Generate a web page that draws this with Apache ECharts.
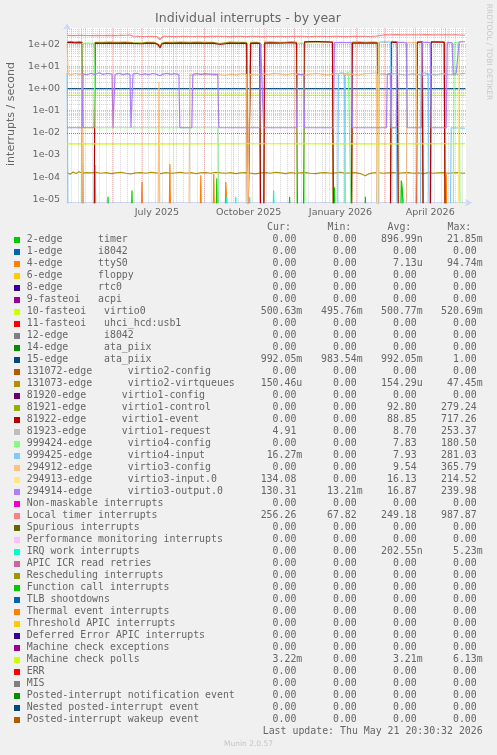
<!DOCTYPE html>
<html>
<head>
<meta charset="utf-8">
<script src="https://cdn.jsdelivr.net/npm/echarts@6/dist/echarts.min.js"></script>
<style>
html,body{margin:0;padding:0;background:#F0F0F0;}
#c{width:497px;height:755px;}
</style>
</head>
<body>
<div id="c"></div>
<script>
// ---------------- DATA ----------------
// Time axis (Munin "by year" graph, 400 days ending at last update)
const AXIS_START = Date.UTC(2025, 3, 16, 20, 30, 32);
const AXIS_END   = Date.UTC(2026, 4, 21, 20, 30, 32);
const DATA_T0    = Date.UTC(2025, 3, 17);   // day 0 of the point lists below
const X_LABEL_DATES = ['2025-07-16', '2025-10-16', '2026-01-16', '2026-04-16'];
const X_LABELS      = ['July 2025', 'October 2025', 'January 2026', 'April 2026'];
const Y_MIN = 7.0e-6, Y_MAX = 545;
const Y_TICK_VALUES = [1e-5, 1e-4, 1e-3, 1e-2, 1e-1, 1e0, 1e1, 1e2];
const Y_TICK_LABELS = ['1e-05', '1e-04', '1e-03', '1e-02', '1e-01', '1e+00', '1e+01', '1e+02'];

// Legend rows (Munin order)
const NAMES = [
 '2-edge      timer', '1-edge      i8042', '4-edge      ttyS0', '6-edge      floppy',
 '8-edge      rtc0', '9-fasteoi   acpi', '10-fasteoi   virtio0', '11-fasteoi   uhci_hcd:usb1',
 '12-edge      i8042', '14-edge      ata_piix', '15-edge      ata_piix',
 '131072-edge      virtio2-config', '131073-edge      virtio2-virtqueues',
 '81920-edge      virtio1-config', '81921-edge      virtio1-control', '81922-edge      virtio1-event',
 '81923-edge      virtio1-request', '999424-edge      virtio4-config', '999425-edge      virtio4-input',
 '294912-edge      virtio3-config', '294913-edge      virtio3-input.0', '294914-edge      virtio3-output.0',
 'Non-maskable interrupts', 'Local timer interrupts', 'Spurious interrupts',
 'Performance monitoring interrupts', 'IRQ work interrupts', 'APIC ICR read retries',
 'Rescheduling interrupts', 'Function call interrupts', 'TLB shootdowns',
 'Thermal event interrupts', 'Threshold APIC interrupts', 'Deferred Error APIC interrupts',
 'Machine check exceptions', 'Machine check polls', 'ERR', 'MIS',
 'Posted-interrupt notification event', 'Nested posted-interrupt event', 'Posted-interrupt wakeup event'
];
const COLORS = [
 '#00CC00','#0066B3','#FF8000','#FFCC00','#330099','#990099','#CCFF00','#FF0000','#808080','#008F00',
 '#00487D','#B35A00','#B38F00','#6B006B','#8FB300','#B30000','#BEBEBE','#80FF80','#80C9FF','#FFC080',
 '#FFE680','#AA80FF','#EE00CC','#FF8080','#666600','#FFBFFF','#00FFCC','#CC6699','#999900','#00CC00',
 '#0066B3','#FF8000','#FFCC00','#330099','#990099','#CCFF00','#FF0000','#808080','#008F00','#00487D','#B35A00'
];
const CUR = ['0.00','0.00','0.00','0.00','0.00','0.00','500.63m','0.00','0.00','0.00','992.05m','0.00','150.46u',
 '0.00','0.00','0.00','4.91','0.00','16.27m','0.00','134.08','130.31','0.00','256.26','0.00','0.00','0.00',
 '0.00','0.00','0.00','0.00','0.00','0.00','0.00','0.00','3.22m','0.00','0.00','0.00','0.00','0.00'];
const MIN = ['0.00','0.00','0.00','0.00','0.00','0.00','495.76m','0.00','0.00','0.00','983.54m','0.00','0.00',
 '0.00','0.00','0.00','0.00','0.00','0.00','0.00','0.00','13.21m','0.00','67.82','0.00','0.00','0.00',
 '0.00','0.00','0.00','0.00','0.00','0.00','0.00','0.00','0.00','0.00','0.00','0.00','0.00','0.00'];
const AVG = ['896.99n','0.00','7.13u','0.00','0.00','0.00','500.77m','0.00','0.00','0.00','992.05m','0.00','154.29u',
 '0.00','92.80','88.85','8.70','7.83','7.93','9.54','16.13','16.87','0.00','249.18','0.00','0.00','202.55n',
 '0.00','0.00','0.00','0.00','0.00','0.00','0.00','0.00','3.21m','0.00','0.00','0.00','0.00','0.00'];
const MAX = ['21.85m','0.00','94.74m','0.00','0.00','0.00','520.69m','0.00','0.00','0.00','1.00','0.00','47.45m',
 '0.00','279.24','717.26','253.37','180.50','281.03','365.79','214.52','239.98','0.00','987.87','0.00','0.00','5.23m',
 '0.00','0.00','0.00','0.00','0.00','0.00','0.00','0.00','6.13m','0.00','0.00','0.00','0.00','0.00'];
const LAST_UPDATE = 'Last update: Thu May 21 20:30:32 2026';

// Series values: [day since 2025-04-17, interrupts/second]
const TIMER_PTS = [[0,0],[40,0],[41,1.3e-5],[42,0],[64,0],[65,2.5e-5],[66,0],[149,0],[150,9e-5],[151,0],
 [222,0],[223,1.3e-5],[224,0],[267,0],[268,3.5e-5],[269,0],[298,0],[299,1.3e-5],[300,0],[334,0],[335,7e-5],
 [336,3e-5],[337,0],[379,0],[380,1.3e-5],[381,0],[399,0]];
const TTYS0_PTS = [[0,0],[27,0],[28,3.5e-4],[29,0],[74,0],[75,6e-5],[76,0],[102,0],[103,3.8e-4],[104,0],
 [133,0],[134,1.2e-4],[135,0],[146,0],[147,1.4e-4],[148,0],[158,0],[159,6e-5],[161,6e-5],[162,0],
 [379,0],[380,1.4e-4],[381,0],[399,0]];
const VIRTIO0_PTS = [[0,0.50],[80,0.50],[160,0.501],[240,0.50],[320,0.50],[399,0.5006]];
const ATA15_PTS = [[0,0.99],[60,0.992],[120,0.99],[180,0.995],[240,0.99],[300,0.992],[360,0.99],[399,0.992]];
const VIRTQ_PTS = [[0,1.6e-4],[3,1.35e-4],[6,1.7e-4],[9,1.45e-4],[12,1.75e-4],[15,1.5e-4],[19,1.6e-4],
 [24,1.55e-4],[29,1.65e-4],[34,1.5e-4],[39,1.6e-4],[44,1.45e-4],[49,1.55e-4],[54,1.65e-4],[59,1.5e-4],
 [64,1.4e-4],[69,1.55e-4],[74,1.6e-4],[79,1.5e-4],[84,1.65e-4],[89,1.55e-4],[94,1.45e-4],[99,1.6e-4],
 [104,1.5e-4],[109,1.55e-4],[114,1.65e-4],[119,1.5e-4],[124,1.6e-4],[129,1.45e-4],[134,1.55e-4],
 [139,1.6e-4],[144,1.5e-4],[149,1.65e-4],[154,1.55e-4],[159,1.5e-4],[164,1.6e-4],[169,1.45e-4],
 [174,1.55e-4],[179,1.6e-4],[184,1.5e-4],[189,1.4e-4],[194,1.55e-4],[199,1.6e-4],[204,1.5e-4],
 [209,1.65e-4],[214,1.55e-4],[219,1.45e-4],[224,1.6e-4],[229,1.5e-4],[234,1.55e-4],[239,1.6e-4],
 [244,1.5e-4],[249,1.45e-4],[254,1.55e-4],[259,1.6e-4],[264,1.5e-4],[269,1.55e-4],[274,1.65e-4],
 [279,1.5e-4],[284,1.55e-4],[289,1.6e-4],[294,1.45e-4],[299,1.15e-4],[302,1.4e-4],[307,1.55e-4],
 [312,1.6e-4],[317,1.5e-4],[322,1.55e-4],[327,1.6e-4],[332,1.5e-4],[337,1.55e-4],[342,1.6e-4],
 [347,1.5e-4],[352,1.55e-4],[357,1.45e-4],[362,1.6e-4],[367,1.5e-4],[372,1.55e-4],[377,1.6e-4],
 [382,1.5e-4],[387,1.55e-4],[392,1.6e-4],[396,1.5e-4],[399,1.5046e-4]];
const V1CTRL_PTS = [[0,128],[4,132],[8,126],[12,131],[15,127],[16,0.017],[27,0.017],[28,124],[35,121],
 [42,126],[50,122],[58,125],[66,120],[75,117],[80,124],[88,121],[93,80],[95,115],[98,124],[106,121],
 [114,125],[122,122],[130,126],[138,121],[146,123],[153,108],[155,122],[163,125],[170,121],[177,124],
 [180,118],[181,0],[183,0],[184,121],[190,123],[193,119],[194,0],[197,0],[198,125],[205,127],[212,124],
 [220,126],[226,128],[230,123],[231,0],[237,0],[238,126],[245,127],[252,128],[259,127],[266,124],[267,0],
 [285,0],[286,125],[293,127],[300,124],[306,126],[311,123],[312,0],[324,0],[325,130],[331,128],[332,0],
 [350,0],[351,130],[356,131],[357,0],[364,0],[365,131],[372,132],[378,129],[379,0],[399,0]];
const V1EVENT_PTS = [[0,118],[4,122],[8,115],[12,120],[15,117],[16,0],[27,0],[28,112],[35,110],[42,114],
 [50,111],[58,113],[66,109],[75,106],[80,112],[88,110],[91,100],[93,68],[95,104],[98,112],[106,110],
 [114,113],[122,111],[130,114],[138,110],[146,112],[153,98],[155,111],[163,113],[170,110],[177,112],
 [180,108],[181,0],[183,0],[184,110],[190,112],[193,108],[194,0],[197,0],[198,114],[205,116],[212,113],
 [220,115],[226,117],[230,112],[231,0],[237,0],[238,128],[245,132],[252,133],[259,130],[266,126],[267,0],
 [285,0],[286,114],[293,116],[300,113],[306,115],[311,112],[312,0],[324,0],[325,125],[331,122],[332,0],
 [350,0],[351,124],[356,126],[357,0],[364,0],[365,125],[372,127],[378,123],[379,0],[399,0]];
const V1REQ_PTS = [[0,0],[310,0],[311,4.2],[316,4.6],[322,4.3],[328,4.8],[334,4.4],[340,4.1],[346,4.6],
 [352,4.3],[358,4.0],[364,4.5],[370,4.2],[376,4.7],[382,4.4],[388,4.2],[394,4.6],[399,4.91]];
const V4CFG_PTS = [[0,0],[14,0],[15,108],[20,112],[27,110],[28,0.017],[151,0.017],[152,0],[230,0],
 [231,110],[237,112],[238,0],[278,0],[279,4.8],[282,5.3],[284,4.6],[285,0],[387,0],[388,118],[393,120],
 [394,0],[399,0]];
const V4IN_PTS = [[0,5],[1,0],[271,0],[272,4.6],[275,5.1],[278,4.7],[279,0],[312,0],[313,126],[318,128],
 [324,125],[325,0.017],[330,0.017],[331,0],[354,0],[355,4.8],[358,5.2],[362,4.6],[363,0],[384,0],
 [385,0.017],[399,0.01627]];
const V3CFG_PTS = [[0,110],[1,4.6],[4,4.2],[8,4.8],[12,4.4],[15,4.5],[16,0],[91,0],[92,2.0],[93,0],
 [122,0],[123,4.3],[128,4.0],[134,4.6],[140,4.2],[146,4.8],[152,4.4],[158,4.0],[164,4.5],[170,4.2],
 [176,4.7],[180,4.3],[181,0],[182,0],[183,4.4],[190,4.1],[196,4.6],[202,4.3],[208,4.9],[214,4.5],
 [220,4.2],[226,4.7],[232,4.3],[238,4.0],[244,4.5],[250,4.8],[256,4.4],[262,4.2],[268,4.6],[274,4.9],
 [280,4.3],[286,4.5],[292,4.1],[298,4.6],[304,4.8],[310,5.2],[311,0],[340,0],[341,118],[346,122],
 [350,120],[351,0],[399,0]];
const V3IN_PTS = [[0,0],[311,0],[312,128],[313,0],[392,0],[393,132],[399,134.08]];
const V3OUT_PTS = [[0,0.017],[15,0.017],[16,4.6],[20,4.2],[24,4.9],[28,4.3],[32,5.2],[36,4.4],[40,4.8],
 [45,4.5],[46,0.017],[47,0.017],[48,4.4],[52,4.9],[56,4.3],[60,4.7],[63,4.4],[64,0.017],[65,0.017],
 [66,4.5],[70,4.9],[74,4.2],[78,4.6],[82,4.3],[86,4.8],[90,4.4],[93,3.8],[96,4.5],[100,4.9],[104,4.4],
 [108,4.7],[112,4.3],[113,0.017],[125,0.017],[126,4.4],[130,4.8],[134,4.3],[138,4.7],[142,4.5],[146,4.2],
 [151,4.4],[152,0.017],[193,0.017],[194,118],[196,120],[197,0.017],[230,0.017],[231,4.6],[234,4.2],
 [237,4.5],[238,0.017],[267,0.017],[268,120],[275,122],[280,119],[285,121],[286,0.017],[320,0.017],
 [321,4.5],[324,4.8],[325,0.017],[330,0.017],[331,121],[336,123],[340,120],[341,0.017],[355,0.017],
 [356,122],[360,124],[364,121],[365,0.017],[380,0.017],[381,122],[386,120],[387,4.4],[390,4.9],[392,4.6],
 [393,128],[399,130.31]];
const LOC_PTS = [[0,252],[6,248],[12,255],[18,250],[24,246],[30,253],[36,249],[42,251],[48,247],[54,255],
 [60,258],[63,262],[66,235],[72,228],[78,225],[84,230],[90,222],[92,190],[93,165],[94,200],[96,226],
 [102,229],[108,224],[114,227],[120,230],[126,225],[132,228],[138,223],[144,229],[150,226],[156,231],
 [162,224],[168,228],[174,226],[180,221],[182,215],[184,227],[190,230],[196,224],[202,228],[208,225],
 [214,229],[220,223],[226,227],[232,230],[238,226],[244,224],[250,229],[256,227],[262,225],[268,228],
 [274,230],[280,224],[286,227],[292,226],[298,229],[304,225],[310,232],[312,268],[318,270],[324,266],
 [330,272],[336,268],[342,265],[348,270],[354,267],[360,271],[366,266],[372,269],[378,264],[384,268],
 [390,270],[396,262],[399,256.26]];
const IWI_PTS = [[0,0],[159,0],[160,1.3e-5],[161,0],[168,0],[169,1.3e-5],[170,0],[182,0],[183,1.3e-5],
 [184,0],[206,0],[207,2.5e-5],[208,0],[336,0],[337,1.3e-5],[338,0],[399,0]];
const MCP_PTS = [[0,0.00321],[100,0.0032],[200,0.00322],[300,0.0032],[399,0.00322]];

// legend index -> point list (drawn in legend order, like rrdtool)
const PLOTTED = [
 [0, TIMER_PTS], [2, TTYS0_PTS], [6, VIRTIO0_PTS], [10, ATA15_PTS], [12, VIRTQ_PTS],
 [14, V1CTRL_PTS], [15, V1EVENT_PTS], [16, V1REQ_PTS], [17, V4CFG_PTS], [18, V4IN_PTS],
 [19, V3CFG_PTS], [20, V3IN_PTS], [21, V3OUT_PTS], [23, LOC_PTS], [26, IWI_PTS], [35, MCP_PTS]
];

// ---------------- BUILD ----------------
const DAY = 86400000;
const FLOOR = 1e-7; // zero is drawn at the bottom edge (clipped), as rrdtool does on a log axis
const X_LABEL_TS = X_LABEL_DATES.map(s => Date.parse(s + 'T00:00:00Z'));

// grid lines (rrdtool style): weekly minor, monthly major, log minor 2..9, decades major
const minorV = [], majorV = [], minorH = [], majorH = [];
for (let t = Date.UTC(2025, 3, 21); t <= AXIS_END; t += 7 * DAY) minorV.push(t);
for (let m = 4; m <= 16; m++) majorV.push(Date.UTC(2025, m, 1));
for (let e = -6; e <= 2; e++) {
  if (Math.pow(10, e) >= Y_MIN) majorH.push(Math.pow(10, e));
  for (let k = 2; k <= 9; k++) { const v = k * Math.pow(10, e); if (v > Y_MIN && v < Y_MAX) minorH.push(v); }
}
const minorStyle = { color: 'rgba(143,143,143,0.38)', width: 1, type: [1, 1] };
const majorStyle = { color: 'rgba(222,79,79,0.45)', width: 1, type: [1, 1] };
const gridLines = []
  .concat(minorV.map(t => ({ xAxis: t, lineStyle: minorStyle })))
  .concat(minorH.map(v => ({ yAxis: v, lineStyle: minorStyle })))
  .concat(majorV.map(t => ({ xAxis: t, lineStyle: majorStyle })))
  .concat(majorH.map(v => ({ yAxis: v, lineStyle: majorStyle })));

const series = [{
  type: 'line', data: [[AXIS_START, 1]], silent: true, z: 1, showSymbol: false, lineStyle: { opacity: 0 },
  markLine: { silent: true, symbol: ['none', 'none'], label: { show: false }, animation: false, data: gridLines }
}];
PLOTTED.forEach(([idx, pts]) => {
  series.push({
    type: 'line', name: NAMES[idx], z: 2,
    data: pts.map(([d, v]) => [DATA_T0 + d * DAY, v > 0 ? v : FLOOR]),
    showSymbol: false, symbol: 'none', silent: true, clip: true,
    lineStyle: { color: COLORS[idx], width: 1.2 }, itemStyle: { color: COLORS[idx] }
  });
});

// legend table graphics
const FONT_COLOR = '#666666';
const MONO = '9.9px "DejaVu Sans Mono"';
const CW = 5.96;
const ROW0 = 239.7, ROWH = 12;
const COL_R = [302.3, 362.7, 422.7, 482.7];
const graphics = [];
function txt(text, x, y, align, font, fill, extra) {
  return Object.assign({ type: 'text', x: x, y: y, silent: true,
    style: { text: text, font: font, fill: fill || FONT_COLOR, align: align, verticalAlign: 'middle' } }, extra || {});
}
graphics.push(txt('Individual interrupts - by year', 248, 18.5, 'center', '12.5px "DejaVu Sans"'));
graphics.push(txt('interrupts / second', 10.7, 114, 'center', '11px "DejaVu Sans"', FONT_COLOR, { rotation: Math.PI / 2 }));
graphics.push(txt('RRDTOOL / TOBI OETIKER', 488.5, 52, 'center', '7.5px "DejaVu Sans"', '#C8C8C8', { rotation: -Math.PI / 2 }));
['Cur:', 'Min:', 'Avg:', 'Max:'].forEach((h, j) => graphics.push(txt(h, COL_R[j] - 2 * CW + 0.5, 227, 'right', MONO)));
NAMES.forEach((name, i) => {
  const y = ROW0 + ROWH * i;
  graphics.push({ type: 'rect', silent: true, shape: { x: 14, y: y - 2.7, width: 6, height: 6 }, style: { fill: COLORS[i] } });
  graphics.push(txt(name, 26.7, y, 'left', MONO));
  [CUR, MIN, AVG, MAX].forEach((col, j) => {
    const s = col[i];
    const hasSuffix = /[a-zA-Z]$/.test(s);
    graphics.push(txt(s, COL_R[j] - (hasSuffix ? 0 : CW), y, 'right', MONO));
  });
});
graphics.push(txt(LAST_UPDATE, 482.7, ROW0 + ROWH * NAMES.length, 'right', MONO));
graphics.push(txt('Munin 2.0.57', 248.5, 744, 'center', '7.5px "DejaVu Sans"', '#C4C4C4'));

const option = {
  backgroundColor: '#F0F0F0',
  animation: false,
  textStyle: { fontFamily: 'DejaVu Sans' },
  grid: { left: 67, top: 28, width: 399, height: 174.7, show: true, backgroundColor: '#FFFFFF', borderWidth: 0, containLabel: false },
  xAxis: {
    type: 'value', min: AXIS_START, max: AXIS_END, scale: true,
    axisLine: { show: true, onZero: false, lineStyle: { color: '#CFD6F8', width: 1 }, symbol: ['none', 'arrow'], symbolSize: [6, 7], symbolOffset: [0, 6] },
    axisTick: { show: false }, splitLine: { show: false },
    axisLabel: {
      customValues: X_LABEL_TS, color: FONT_COLOR, fontSize: 9.5, fontFamily: 'DejaVu Sans', margin: 5, hideOverlap: false,
      formatter: v => { const i = X_LABEL_TS.findIndex(t => Math.abs(t - v) < DAY / 2); return i >= 0 ? X_LABELS[i] : ''; }
    }
  },
  yAxis: {
    type: 'log', logBase: 10, min: Y_MIN, max: Y_MAX,
    axisLine: { show: true, lineStyle: { color: '#CFD6F8', width: 1 }, symbol: ['none', 'arrow'], symbolSize: [6, 7], symbolOffset: [0, 5] },
    axisTick: { show: false }, splitLine: { show: false },
    axisLabel: {
      color: FONT_COLOR, fontSize: 9.5, fontFamily: 'DejaVu Sans', margin: 7, showMinLabel: false, showMaxLabel: false,
      formatter: v => { const i = Y_TICK_VALUES.findIndex(t => Math.abs(Math.log10(v) - Math.log10(t)) < 0.01); return i >= 0 ? Y_TICK_LABELS[i] : ''; }
    }
  },
  series: series,
  graphic: { elements: graphics }
};
const chart = echarts.init(document.getElementById('c'), null, { renderer: 'canvas', width: 497, height: 755 });
chart.setOption(option);
</script>
</body>
</html>
